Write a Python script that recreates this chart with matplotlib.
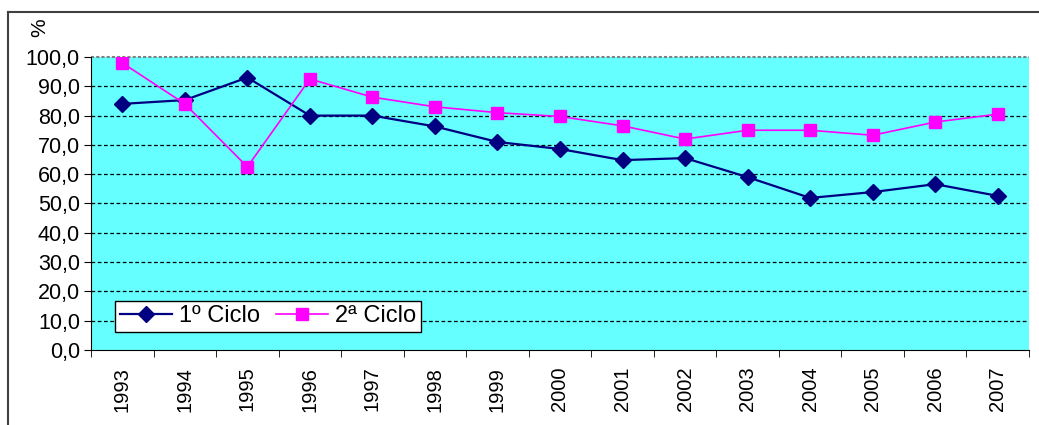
import matplotlib
matplotlib.use("Agg")
import matplotlib.pyplot as plt
from matplotlib.ticker import FuncFormatter, FixedLocator
import numpy as np

plt.rcParams['font.family'] = ['Liberation Sans', 'DejaVu Sans']

# dados
anos = ['1993', '1994', '1995', '1996', '1997', '1998', '1999', '2000',
        '2001', '2002', '2003', '2004', '2005', '2006', '2007']
ciclo1 = [84.0, 85.3, 93.0, 80.0, 80.0, 76.3, 71.0, 68.6,
          64.8, 65.5, 59.0, 51.9, 53.9, 56.6, 52.6]
ciclo2 = [98.0, 84.0, 62.5, 92.5, 86.3, 83.0, 81.0, 79.7,
          76.5, 72.0, 75.0, 75.0, 73.3, 77.8, 80.5]
yticks = [0, 10, 20, 30, 40, 50, 60, 70, 80, 90, 100]

fig = plt.figure(figsize=(10.39, 4.25), dpi=100)
ax = fig.add_axes([91/1039, 1 - 350/425, 938/1039, 293/425])

x = np.arange(len(anos))
ax.set_facecolor('#66FFFF')
ax.plot(x, ciclo1, color='#000080', marker='D', markersize=8, lw=1.6, label='1º Ciclo', zorder=3)
ax.plot(x, ciclo2, color='#FF00FF', marker='s', markersize=8, lw=1.2, label='2ª Ciclo', zorder=3)

ax.set_xlim(-0.5, len(anos) - 0.5)
ax.set_ylim(0, 100)

# grelha
for v in yticks[1:-1]:
    ax.axhline(v, color='black', ls=(0, (3, 2)), lw=0.9, zorder=1)
ax.axhline(100, color='#808080', ls=(0, (1.5, 1)), lw=1.5, zorder=1, clip_on=False)

ax.set_yticks(yticks)
ax.yaxis.set_major_formatter(FuncFormatter(lambda v, p: f'{v:.1f}'.replace('.', ',')))
ax.set_xticks(x)
ax.set_xticklabels(anos, rotation=90)
ax.xaxis.set_minor_locator(FixedLocator(np.arange(-0.5, len(anos), 1)))
ax.tick_params(axis='x', which='major', length=0, pad=12, labelsize=14.5)
ax.tick_params(axis='x', which='minor', length=5, direction='out')
ax.tick_params(axis='y', length=5, direction='out', labelsize=15.5, pad=3)

for s in ['top', 'right']:
    ax.spines[s].set_visible(False)

leg = ax.legend(loc='lower left', bbox_to_anchor=(24/938, 18/293), ncol=2, fontsize=17,
                frameon=True, fancybox=False, edgecolor='black', framealpha=1,
                handlelength=2.2, borderpad=0.2, columnspacing=0.7, handletextpad=0.3,
                borderaxespad=0)
leg.get_frame().set_linewidth(1)

fig.text(40/1039, 1 - 28/425, '%', rotation=90, fontsize=15, ha='center', va='center')

# moldura exterior
fig.add_artist(plt.Line2D([8/1039, 8/1039], [0, 1 - 12/425], color='#404040', lw=1.5))
fig.add_artist(plt.Line2D([8/1039, 1], [1 - 12/425, 1 - 12/425], color='#404040', lw=1.5))

fig.savefig('out.png', dpi=100)
